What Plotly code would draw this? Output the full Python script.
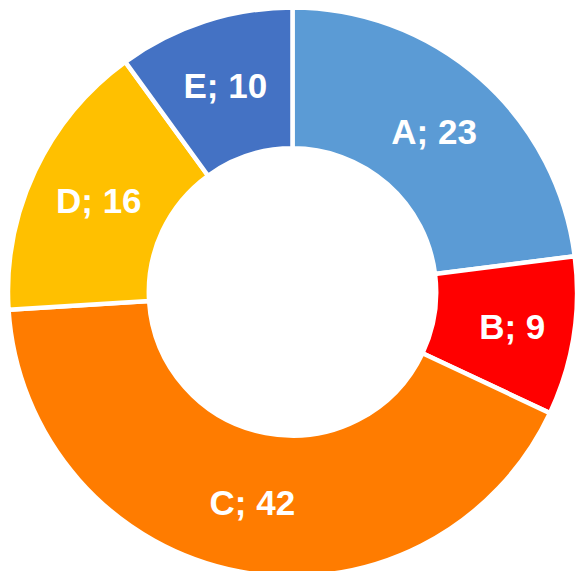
import plotly.graph_objects as go

labels = ["A", "B", "C", "D", "E"]
values = [23, 9, 42, 16, 10]
colors = ["#5B9BD5", "#FF0000", "#FF7C00", "#FFC000", "#4472C4"]

fig = go.Figure(go.Pie(
    labels=labels,
    values=values,
    hole=0.505,
    sort=False,
    direction="clockwise",
    rotation=0,
    domain=dict(x=[0.0138, 0.9948], y=[0.0060, 0.9871]),
    marker=dict(colors=colors, line=dict(color="white", width=4.5)),
    texttemplate="<b>%{label}; %{value}</b>",
    textposition="inside",
    insidetextorientation="horizontal",
    insidetextfont=dict(family="Liberation Sans, Arial, sans-serif", size=35, color="white"),
    showlegend=False,
))
fig.update_layout(
    width=580, height=580,
    margin=dict(l=0, r=0, t=0, b=0),
    paper_bgcolor="white", plot_bgcolor="white",
    uniformtext=dict(minsize=35, mode="show"),
    font=dict(family="Liberation Sans, Arial, sans-serif"),
)
fig.write_html(
    "out.html",
    config={"displayModeBar": False},
    post_script="document.body.style.margin='0';document.body.style.overflow='hidden';",
)
